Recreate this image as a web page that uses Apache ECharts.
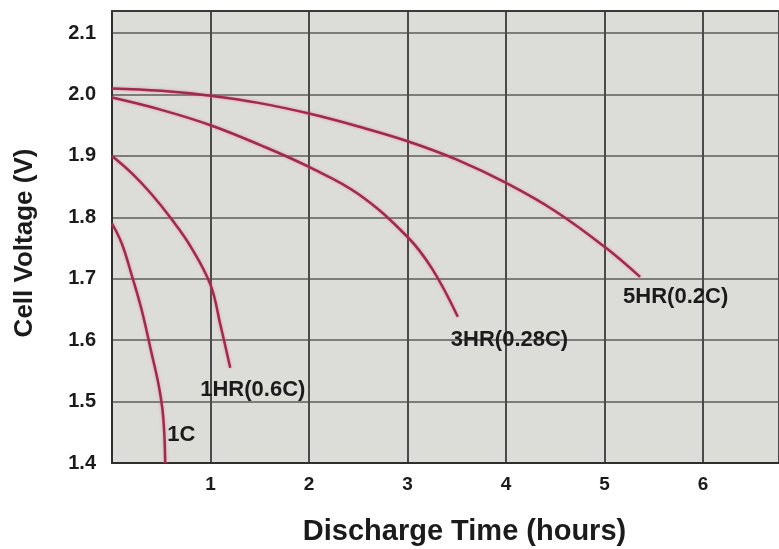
<!DOCTYPE html>
<html>
<head>
<meta charset="utf-8">
<script src="https://cdn.jsdelivr.net/npm/echarts@6/dist/echarts.min.js"></script>
<style>
  html, body { margin: 0; padding: 0; background: #fff; }
  #chart { width: 779px; height: 549px; }
</style>
</head>
<body>
<div id="chart"></div>
<script>
// discharge curves: [hours, volts]
const curve1C = [[0, 1.79], [0.1, 1.757], [0.2, 1.706], [0.3, 1.65], [0.4, 1.58], [0.47, 1.53], [0.51, 1.49], [0.53, 1.45], [0.54, 1.4]]
const curve1HR = [[0, 1.9], [0.2, 1.872], [0.4, 1.838], [0.6, 1.798], [0.8, 1.752], [1.0, 1.69], [1.1, 1.625], [1.2, 1.555]]
const curve3HR = [[0, 1.995], [0.5, 1.975], [1, 1.95], [1.5, 1.918], [2, 1.882], [2.5, 1.838], [3, 1.768], [3.25, 1.716], [3.51, 1.638]]
const curve5HR = [[0, 2.01], [0.5, 2.006], [1, 1.998], [1.5, 1.986], [2, 1.969], [2.5, 1.948], [3, 1.924], [3.5, 1.894], [4, 1.856], [4.5, 1.81], [5, 1.752], [5.36, 1.703]]

const curveNames = ['1C', '1HR(0.6C)', '3HR(0.28C)', '5HR(0.2C)']
const labelOffsets = [[2, -28], [-30, 22], [-7, 23], [-17, 20]]

const font = "'Liberation Sans', Arial, sans-serif"
const lineColor = '#9e2a4d'

const series = [curve1C, curve1HR, curve3HR, curve5HR].map((d, i) => ({
  name: curveNames[i],
  type: 'line',
  smooth: 0.4,
  symbol: 'none',
  data: d,
  lineStyle: {
    color: lineColor,
    width: 2.5,
    shadowColor: 'rgba(235,90,130,0.6)',
    shadowBlur: 3,
  },
  endLabel: {
    show: true,
    formatter: curveNames[i],
    distance: 0,
    offset: labelOffsets[i],
    color: '#1b1b1b',
    fontFamily: font,
    fontWeight: 'bold',
    fontSize: 22,
  },
}))

const chart = echarts.init(document.getElementById('chart'))
chart.setOption({
  animation: false,
  grid: {
    left: 112, top: 11, right: 0, bottom: 86,
    outerBoundsMode: 'none',
    show: true, backgroundColor: '#dcddd8', borderWidth: 0,
  },
  xAxis: [
    {
      type: 'value',
      min: 0,
      max: 6.77,
      interval: 1,
      name: 'Discharge Time (hours)',
      nameLocation: 'middle',
      nameGap: 54,
      nameTextStyle: { fontFamily: font, fontWeight: 'bold', fontSize: 29, color: '#1b1b1b', padding: [0, 0, 0, 38] },
      axisLine: { lineStyle: { color: '#2e2e2e', width: 2 } },
      axisTick: { show: false },
      axisLabel: {
        showMinLabel: false, showMaxLabel: false, margin: 12,
        fontFamily: font, fontWeight: 'bold', fontSize: 19, color: '#1b1b1b',
      },
      splitLine: { lineStyle: { color: '#4a4a4a', width: 2 } },
    },
    {
      type: 'value',
      position: 'top',
      min: 0,
      max: 6.77,
      axisLine: { show: true, lineStyle: { color: '#3a3a3a', width: 2 } },
      axisTick: { show: false },
      axisLabel: { show: false },
      splitLine: { show: false },
    },
  ],
  yAxis: {
    type: 'value',
    min: 1.4,
    max: 2.136,
    interval: 0.1,
    name: 'Cell Voltage (V)',
    nameLocation: 'middle',
    nameGap: 74,
    nameTextStyle: { fontFamily: font, fontWeight: 'bold', fontSize: 26, color: '#1b1b1b', padding: [0, 12, 0, 0] },
    axisLine: { show: true, lineStyle: { color: '#2e2e2e', width: 2 } },
    axisTick: { show: false },
    axisLabel: {
      showMaxLabel: false, margin: 16,
      formatter: (v) => v.toFixed(1),
      fontFamily: font, fontWeight: 'bold', fontSize: 20, color: '#1b1b1b',
    },
    splitLine: { lineStyle: { color: '#7c7d7a', width: 2 } },
  },
  series: series,
})
</script>
</body>
</html>
